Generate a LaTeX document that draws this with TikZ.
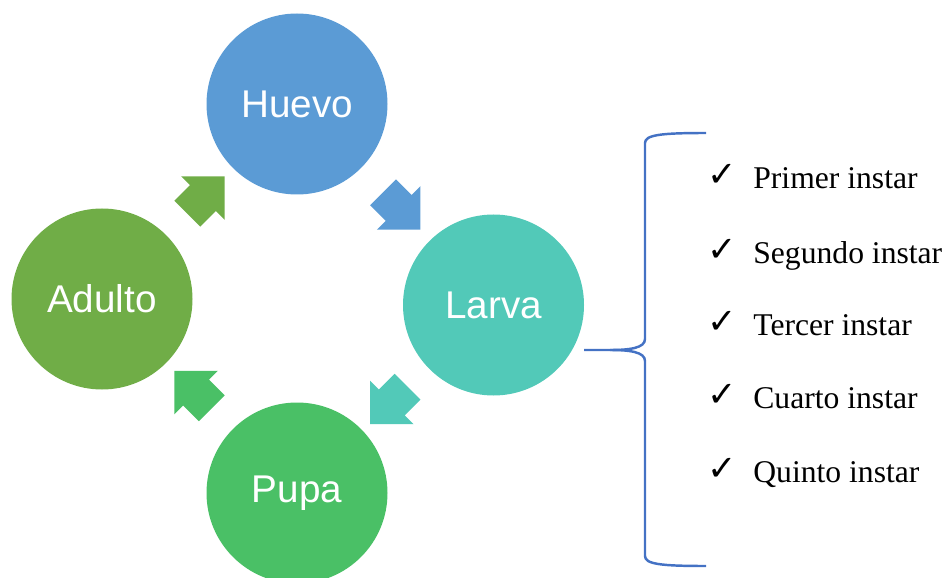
\documentclass[tikz,border=0pt]{standalone}
\usepackage{fontspec}
\setmainfont{Liberation Serif}
\newfontfamily\stagefont{Liberation Sans}
\newfontfamily\tickfont{DejaVu Sans}
\usepackage{tikz}
\usetikzlibrary{positioning,calc,shapes.arrows}

\definecolor{huevoblue}{HTML}{5B9BD5}
\definecolor{larvateal}{HTML}{52C9B8}
\definecolor{pupagreen}{HTML}{4AC066}
\definecolor{adultgreen}{HTML}{70AD47}
\definecolor{braceblue}{HTML}{4472C4}

\begin{document}
\begin{tikzpicture}[on grid,
  stage/.style={circle,minimum size=3.62cm,inner sep=0pt,text=white,
    font=\stagefont\fontsize{22}{26}\selectfont},
  cyclearrow/.style={single arrow,minimum height=1.06cm,
    single arrow head extend=0.25cm,inner xsep=0pt,inner ysep=0.36cm},
  instar/.style={anchor=base west,inner sep=0pt,font=\fontsize{18}{22}\selectfont},
  tick/.style={anchor=base west,inner sep=0pt,font=\tickfont\fontsize{20}{24}\selectfont}]
  \clip (0,0) rectangle (18.94,11.54);

  \node[stage,fill=huevoblue] (huevo) at (5.94,9.46) {Huevo};
  \node[stage,fill=larvateal] (larva) [below right = 4.02cm and 3.93cm of huevo] {Larva};
  \node[stage,fill=pupagreen] (pupa) [below left = 3.76cm and 3.93cm of larva] {Pupa};
  \node[stage,fill=adultgreen] (adulto) [above left = 3.88cm and 3.90cm of pupa] {Adulto};

  \node[cyclearrow,fill=huevoblue,rotate=-45] (a1) at ($(huevo)!0.5!(larva)$) {};
  \node[cyclearrow,fill=larvateal,rotate=-135] (a2) at ($(larva)!0.5!(pupa)$) {};
  \node[cyclearrow,fill=pupagreen,rotate=135] (a3) at ($(pupa)!0.5!(adulto)$) {};
  \node[cyclearrow,fill=adultgreen,rotate=45] (a4) at ($(adulto)!0.5!(huevo)$) {};

  % llave
  \coordinate (bracetip) at (11.68,4.54);
  \draw[braceblue,line width=1.4pt]
  (14.12,8.88) .. controls (13.2,8.88) and (12.9,8.84) .. (12.9,8.68)
  -- (12.9,4.76) .. controls (12.9,4.58) and (12.6,4.54) .. (12.2,4.54)
  -- (bracetip);
  \draw[braceblue,line width=1.4pt]
  (12.2,4.54) .. controls (12.6,4.54) and (12.9,4.50) .. (12.9,4.32)
  -- (12.9,0.42) .. controls (12.9,0.26) and (13.2,0.22) .. (14.12,0.22);

  \node[tick] (c1) at (14.14,7.80) {✓};
  \node[tick] (c2) at (14.14,6.32) {✓};
  \node[tick] (c3) at (14.14,4.88) {✓};
  \node[tick] (c4) at (14.14,3.42) {✓};
  \node[tick] (c5) at (14.14,1.94) {✓};

  \node[instar] (i1) at (15.06,7.76) {Primer instar};
  \node[instar] (i2) at (15.06,6.28) {Segundo instar};
  \node[instar] (i3) at (15.06,4.84) {Tercer instar};
  \node[instar] (i4) at (15.06,3.38) {Cuarto instar};
  \node[instar] (i5) at (15.06,1.90) {Quinto instar};
\end{tikzpicture}
\end{document}
